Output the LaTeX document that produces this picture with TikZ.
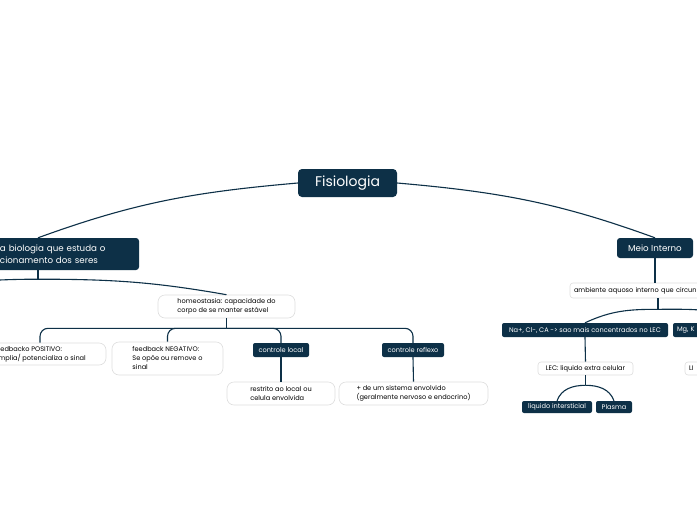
\documentclass[tikz,border=0pt]{standalone}
\usepackage{fontspec}
\setmainfont{Poppins}
\definecolor{mmnavy}{rgb}{0.05,0.19,0.28}
\definecolor{boxgray}{gray}{0.87}
\usepackage{tikz}
\usetikzlibrary{positioning}
\tikzset{
  rootbox/.style={fill=mmnavy,text=white,rounded corners=4pt,minimum width=99pt,
    minimum height=28pt,inner sep=0pt,font=\fontsize{14}{16}\selectfont},
  mainbox/.style={fill=mmnavy,text=white,rounded corners=3pt,inner sep=0pt,
    font=\fontsize{8.7}{11.5}\selectfont},
  darkbox/.style={fill=mmnavy,text=white,rounded corners=2pt,inner sep=0pt,
    minimum height=14pt,font=\fontsize{6.6}{8}\selectfont},
  leafbox/.style={fill=white,draw=boxgray,line width=0.6pt,rounded corners=7pt,
    inner sep=0pt,align=left,font=\fontsize{6.6}{9}\selectfont},
  branch/.style={draw=mmnavy,line width=1.1pt}
}

\begin{document}
\begin{tikzpicture}[x=1pt,y=-1pt]
        \fill[white] (0,0) rectangle (697,520);
        \useasboundingbox (0,0) rectangle (697,520);
        % centre
        \node[rootbox] (fisio) at (347.5,183) {Fisiologia};
        % left side
        \node[mainbox,minimum width=202pt,minimum height=32pt,text width=186pt,align=left]
              (bio) at (38,254) {\hspace*{55pt}a biologia que estuda o\\\hspace*{55pt}cionamento dos seres};
        \node[leafbox,minimum width=137pt,minimum height=23pt] (homeo) at (226.5,306.5)
              {homeostasia: capacidade do\\corpo de se manter estável};
        \node[leafbox,minimum width=132pt,minimum height=22pt] (pos) at (40,354)
              {feedbacko POSITIVO:\\amplia/ potencializa o sinal};
        \node[leafbox,minimum width=111pt,minimum height=33pt] (neg) at (167.5,358.5)
              {feedback NEGATIVO:\\Se opõe ou remove o\\sinal};
        \node[darkbox,minimum width=56pt] (local) at (281,350) {controle local};
        \node[darkbox,minimum width=62pt] (reflexo) at (413,350) {controle reflexo};
        \node[leafbox,minimum width=108pt,minimum height=23pt] (restrito) at (281,393.5)
              {restrito ao local ou\\celula envolvida};
        \node[leafbox,minimum width=149pt,minimum height=23pt] (sistema) at (413.5,393.5)
              {+ de um sistema envolvido\\(geralmente nervoso e endocrino)};
        % right side
        \node[mainbox,minimum width=76pt,minimum height=20pt] (meio) at (655,248) {Meio Interno};
        \node[leafbox,rounded corners=3pt,minimum height=15pt,text width=168pt,inner xsep=4pt]
              (ambiente) at (658,290.5) {ambiente aquoso interno que circun};
        \node[darkbox,minimum width=166pt] (na) at (585,330)
              {Na+, Cl-, CA -> sao mais concentrados no LEC};
        \node[darkbox,text width=142pt,align=left,inner xsep=4pt] (mgk) at (748,330) {Mg, K};
        \node[leafbox,rounded corners=3pt,minimum width=95pt,minimum height=13pt] (lec) at (585.5,368.5)
              {LEC: liquido extra celular};
        \node[leafbox,rounded corners=3pt,minimum height=13pt,text width=118pt,inner xsep=4pt]
              (lic) at (748,368.5) {LI};
        \node[darkbox,minimum width=70pt,minimum height=12pt] (inter) at (557,407) {liquido intersticial};
        \node[darkbox,minimum width=36pt,minimum height=12pt] (plasma) at (614,407) {Plasma};
        % branches
        \draw[branch] (fisio.west) to[out=185,in=20] (bio.north);
        \draw[branch] (fisio.east) to[out=-5,in=160] (meio.north);
        \draw[branch] (bio.south) -- ++(0,9) coordinate (bioJ);
        \coordinate (bioOff) at (-150,300);
        \draw[branch] (bioJ) to[out=0,in=170] (homeo.north);
        \draw[branch] (bioJ) to[out=180,in=10] (bioOff);
        \draw[branch] (homeo.south) -- ++(0,10) coordinate (homeoJ);
        \foreach \kid in {pos,neg,local,reflexo}
          \draw[branch,rounded corners=8pt] (homeoJ) -| (\kid.north);
        \draw[branch] (local.south) -- (restrito.north);
        \draw[branch] (reflexo.south) -- (sistema.north);
        \draw[branch] (meio.south) -- (meio.south|-ambiente.north);
        \draw[branch] (ambiente.south) -- ++(0,11) coordinate (ambJ);
        \draw[branch] (ambJ) to[out=180,in=25] (na.north);
        \draw[branch] (ambJ) to[out=0,in=155] (mgk.north);
        \draw[branch] (na.south) -- (lec.north);
        \draw[branch] (mgk.south) -- (lic.north);
        \draw[branch] (lec.south) -- ++(0,10) coordinate (lecJ);
        \draw[branch] (lecJ) to[out=180,in=70] (inter.north);
        \draw[branch] (lecJ) to[out=0,in=110] (plasma.north);
      \end{tikzpicture}
\end{document}
